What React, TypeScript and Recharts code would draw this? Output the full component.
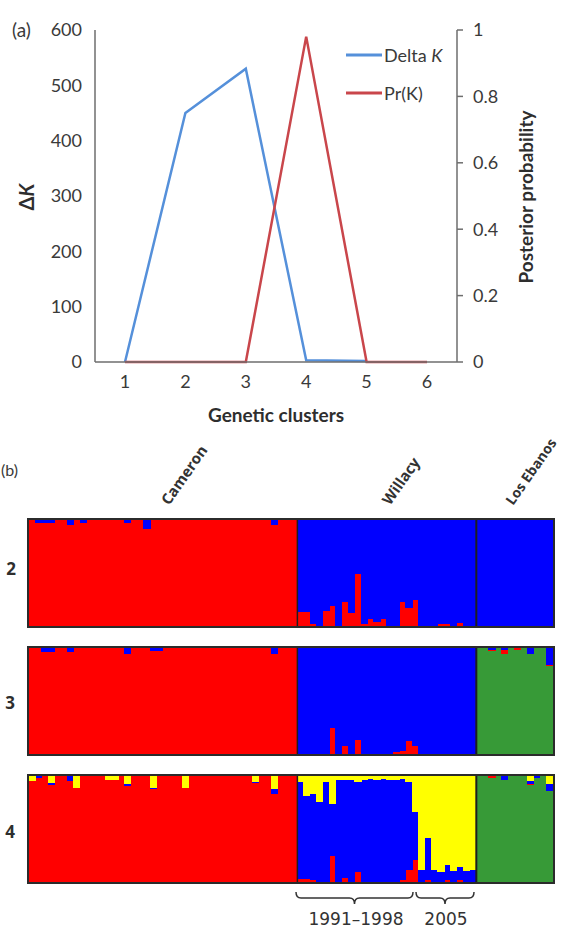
import React from "react";
import { LineChart, Line, XAxis, YAxis, Legend, BarChart, Bar, ReferenceLine } from "recharts";

// ---- panel (a): Delta K and Pr(K) against number of clusters
const clusterLabels = ["1", "2", "3", "4", "5", "6"];
const deltaK = [0, 450, 530, 3, 2, null];
const probK = [0, 0, 0, 0.98, 0, 0];
const deltaTicks = [0, 100, 200, 300, 400, 500, 600];
const probTicks = [0, 0.2, 0.4, 0.6, 0.8, 1];

// ---- panel (b): STRUCTURE membership, one value per individual.
// Only the minor clusters are listed; the rest of each bar goes to the group's main cluster.
const groupSizes = { cameron: 42, willacy91: 19, willacy05: 9, losEbanos: 12 };

const cameronK2Blue = [0, 0.02, 0.02, 0.02, 0, 0, 0.04, 0, 0.02, 0, 0, 0, 0, 0, 0, 0.02, 0, 0, 0.08, 0, 0, 0, 0, 0, 0, 0, 0, 0, 0, 0, 0, 0, 0, 0, 0, 0, 0, 0, 0.04, 0, 0, 0];
const willacy91K2Red = [0.14, 0.14, 0.02, 0.01, 0.15, 0.19, 0.01, 0.23, 0.13, 0.5, 0.02, 0.07, 0.04, 0.07, 0.01, 0.01, 0.23, 0.18, 0.25];
const willacy05K2Red = [0.01, 0.01, 0.01, 0.02, 0.02, 0.01, 0.03, 0.01, 0.01];
const losEbanosK2Red = [0, 0, 0, 0, 0.01, 0, 0, 0, 0, 0, 0, 0];

const cameronK3Blue = [0, 0, 0.03, 0.03, 0, 0, 0.03, 0, 0, 0, 0, 0, 0, 0, 0, 0.05, 0, 0, 0, 0.02, 0.02, 0, 0, 0, 0, 0, 0, 0, 0, 0, 0, 0, 0, 0, 0, 0, 0, 0, 0.05, 0, 0, 0];
const cameronK3Green = [0, 0, 0, 0, 0, 0, 0, 0, 0, 0, 0, 0, 0, 0, 0, 0, 0, 0.01, 0, 0, 0, 0, 0, 0, 0, 0, 0, 0, 0, 0, 0, 0.01, 0, 0, 0, 0, 0, 0, 0, 0, 0, 0];
const willacy91K3Red = [0.01, 0.01, 0, 0, 0.01, 0.25, 0.01, 0.08, 0.01, 0.14, 0.01, 0, 0, 0, 0, 0.01, 0.02, 0.13, 0.08];
const willacy91K3Green = [0, 0, 0, 0, 0, 0, 0, 0, 0, 0, 0, 0, 0, 0, 0, 0.01, 0.01, 0, 0];
const willacy05K3Red = [0.01, 0.01, 0, 0, 0, 0.01, 0.01, 0, 0];
const losEbanosK3Red = [0, 0, 0.01, 0, 0.04, 0, 0.01, 0, 0, 0, 0, 0.01];
const losEbanosK3Blue = [0, 0, 0.01, 0, 0.01, 0, 0, 0, 0.05, 0, 0, 0.15];

const cameronK4Yellow = [0.04, 0, 0, 0.06, 0, 0, 0, 0.11, 0, 0, 0, 0, 0.03, 0.03, 0, 0.07, 0, 0, 0, 0.11, 0, 0, 0, 0, 0.11, 0, 0, 0, 0, 0, 0, 0, 0, 0, 0, 0.05, 0, 0, 0.12, 0, 0, 0];
const cameronK4Blue = [0, 0.01, 0, 0.02, 0, 0, 0.04, 0, 0, 0, 0, 0, 0, 0, 0, 0.02, 0, 0, 0, 0.01, 0, 0, 0, 0, 0, 0, 0, 0, 0, 0, 0, 0, 0, 0, 0, 0.01, 0, 0, 0.04, 0, 0, 0];
const cameronK4Green = [0, 0, 0.01, 0, 0, 0, 0, 0, 0, 0, 0, 0, 0, 0, 0, 0, 0, 0.01, 0, 0, 0, 0, 0, 0, 0, 0, 0, 0, 0, 0, 0, 0, 0, 0, 0, 0, 0, 0, 0, 0, 0, 0];
const willacy91K4Red = [0.03, 0.03, 0.01, 0, 0, 0.25, 0, 0.04, 0, 0.1, 0, 0, 0, 0, 0, 0.01, 0.02, 0.12, 0.21];
const willacy91K4Yellow = [0.05, 0.18, 0.16, 0.24, 0.05, 0.26, 0.03, 0.03, 0.03, 0.05, 0.03, 0.02, 0.03, 0.02, 0.03, 0.03, 0.02, 0.05, 0.33];
const willacy91K4Green = [0, 0, 0.01, 0, 0, 0, 0, 0, 0, 0, 0, 0, 0, 0.01, 0, 0, 0, 0, 0];
const willacy05K4Blue = [0.11, 0.4, 0.11, 0.1, 0.15, 0.11, 0.13, 0.11, 0.11];
const willacy05K4Red = [0.01, 0.02, 0.01, 0, 0.02, 0, 0.02, 0, 0.01];
const losEbanosK4Red = [0, 0, 0.01, 0, 0, 0, 0, 0, 0.01, 0, 0, 0];
const losEbanosK4Blue = [0, 0, 0, 0, 0.03, 0, 0, 0, 0.03, 0.01, 0, 0.07];
const losEbanosK4Yellow = [0, 0, 0, 0, 0, 0, 0, 0, 0.04, 0, 0, 0.07];

const clusterColors: Record<string, string> = {
  green: "#379a37",
  red: "#ff0000",
  blue: "#0000ff",
  yellow: "#ffff00",
};
const stackOrder = ["green", "red", "blue", "yellow"];

type Group = { n: number; main: string; minor: Record<string, number[]> };

function buildRows(groups: Group[]) {
  const rows: any[] = [];
  let id = 0;
  groups.forEach((g) => {
    for (let i = 0; i < g.n; i++) {
      const row: any = { id: `ind${id++}`, green: 0, red: 0, blue: 0, yellow: 0 };
      let rest = 1;
      Object.keys(g.minor).forEach((c) => {
        const v = g.minor[c][i] ?? 0;
        row[c] = v;
        rest -= v;
      });
      row[g.main] = rest;
      rows.push(row);
    }
  });
  return rows;
}

const k2Rows = buildRows([
  { n: groupSizes.cameron, main: "red", minor: { blue: cameronK2Blue } },
  { n: groupSizes.willacy91, main: "blue", minor: { red: willacy91K2Red } },
  { n: groupSizes.willacy05, main: "blue", minor: { red: willacy05K2Red } },
  { n: groupSizes.losEbanos, main: "blue", minor: { red: losEbanosK2Red } },
]);
const k3Rows = buildRows([
  { n: groupSizes.cameron, main: "red", minor: { blue: cameronK3Blue, green: cameronK3Green } },
  { n: groupSizes.willacy91, main: "blue", minor: { red: willacy91K3Red, green: willacy91K3Green } },
  { n: groupSizes.willacy05, main: "blue", minor: { red: willacy05K3Red } },
  { n: groupSizes.losEbanos, main: "green", minor: { red: losEbanosK3Red, blue: losEbanosK3Blue } },
]);
const k4Rows = buildRows([
  { n: groupSizes.cameron, main: "red", minor: { yellow: cameronK4Yellow, blue: cameronK4Blue, green: cameronK4Green } },
  { n: groupSizes.willacy91, main: "blue", minor: { red: willacy91K4Red, yellow: willacy91K4Yellow, green: willacy91K4Green } },
  { n: groupSizes.willacy05, main: "yellow", minor: { blue: willacy05K4Blue, red: willacy05K4Red } },
  { n: groupSizes.losEbanos, main: "green", minor: { red: losEbanosK4Red, blue: losEbanosK4Blue, yellow: losEbanosK4Yellow } },
]);

const willacyStart = `ind${groupSizes.cameron}`;
const losEbanosStart = `ind${groupSizes.cameron + groupSizes.willacy91 + groupSizes.willacy05}`;

const lineData = clusterLabels.map((k, i) => ({ k, deltaK: deltaK[i], probK: probK[i] }));

const BLUE = "#5590da";
const RED = "#c9464b";
const AXIS = "#6e6e6e";
const TICK = "#3a3a3a";
const FONT_A = "Lato, 'Open Sans', sans-serif";
const FONT_B = "'Open Sans', Lato, sans-serif";

function LegendBox() {
  const items = [
    { color: BLUE, text: "Delta ", italic: "K" },
    { color: RED, text: "Pr(K)", italic: "" },
  ];
  return (
    <div style={{ fontFamily: FONT_A, fontSize: 18, color: TICK }}>
      {items.map((it, i) => (
        <div key={i} style={{ display: "flex", alignItems: "center", height: 38 }}>
          <svg width={36} height={6}>
            <line x1={0} y1={3} x2={36} y2={3} stroke={it.color} strokeWidth={3} />
          </svg>
          <span style={{ marginLeft: 2 }}>
            {it.text}
            {it.italic && <i>{it.italic}</i>}
          </span>
        </div>
      ))}
    </div>
  );
}

function StructurePlot({ rows, top }: { rows: any[]; top: number }) {
  return (
    <div
      style={{
        position: "absolute",
        left: 27,
        top,
        width: 524,
        height: 106,
        border: "2px solid #2b2b2b",
        background: "#fff",
      }}
    >
      <BarChart
        width={524}
        height={106}
        data={rows}
        margin={{ top: 0, right: 0, left: 0, bottom: 0 }}
        barCategoryGap={0}
        barGap={0}
      >
        <XAxis dataKey="id" hide />
        <YAxis hide domain={[0, 1]} allowDataOverflow />
        {stackOrder.map((c) => (
          <Bar
            key={c}
            dataKey={c}
            stackId="q"
            fill={clusterColors[c]}
            stroke={clusterColors[c]}
            strokeWidth={1.2}
            shapeRendering="crispEdges"
            isAnimationActive={false}
          />
        ))}
        <ReferenceLine x={willacyStart} position="start" stroke="#1e1e1e" strokeWidth={1.5} />
        <ReferenceLine x={losEbanosStart} position="start" stroke="#1e1e1e" strokeWidth={2} />
      </BarChart>
    </div>
  );
}

function Bracket({ x1, x2, y }: { x1: number; x2: number; y: number }) {
  const mid = (x1 + x2) / 2;
  const d = `M${x1},${y - 6} Q${x1},${y} ${x1 + 5},${y} L${mid - 5},${y} Q${mid},${y} ${mid},${y + 6} Q${mid},${y} ${mid + 5},${y} L${x2 - 5},${y} Q${x2},${y} ${x2},${y - 6}`;
  return <path d={d} fill="none" stroke="#333" strokeWidth={1.5} />;
}

export default function App() {
  return (
    <div style={{ position: "absolute", left: 0, top: 0, width: 564, height: 928, background: "#fff", overflow: "hidden" }}>
      <div style={{ position: "absolute", left: 0, top: 0 }}>
        <LineChart width={564} height={440} data={lineData} margin={{ top: 30, right: 57, left: 35, bottom: 48 }}>
          <XAxis
            dataKey="k"
            padding={{ left: 30, right: 30 }}
            height={30}
            tickSize={0}
            tickMargin={13}
            tickLine={false}
            axisLine={{ stroke: AXIS, strokeWidth: 1.5 }}
            tick={{ fill: TICK, fontSize: 18, fontFamily: FONT_A }}
            label={{
              value: "Genetic clusters",
              position: "bottom",
              offset: 17,
              fill: "#2e2e2e",
              fontSize: 19,
              fontWeight: 700,
              fontFamily: FONT_A,
            }}
          />
          <YAxis
            yAxisId="dk"
            domain={[0, 600]}
            ticks={deltaTicks}
            width={60}
            tickSize={0}
            tickMargin={13}
            tickLine={false}
            axisLine={{ stroke: AXIS, strokeWidth: 1.5 }}
            tick={{ fill: TICK, fontSize: 18, fontFamily: FONT_A }}
          />
          <YAxis
            yAxisId="pr"
            orientation="right"
            domain={[0, 1]}
            ticks={probTicks}
            width={50}
            tickSize={6}
            tickMargin={10}
            tickLine={{ stroke: AXIS, strokeWidth: 1.5 }}
            axisLine={{ stroke: AXIS, strokeWidth: 1.5 }}
            tick={{ fill: TICK, fontSize: 18, fontFamily: FONT_A }}
          />
          <Line yAxisId="dk" dataKey="deltaK" stroke={BLUE} strokeWidth={2.5} dot={false} isAnimationActive={false} />
          <Line yAxisId="pr" dataKey="probK" stroke={RED} strokeWidth={2.5} dot={false} isAnimationActive={false} />
          <Legend
            layout="vertical"
            align="center"
            verticalAlign="middle"
            content={() => <LegendBox />}
            wrapperStyle={{ left: 346, top: 36, width: 130 }}
          />
        </LineChart>
      </div>

      <StructurePlot rows={k2Rows} top={518} />
      <StructurePlot rows={k3Rows} top={646} />
      <StructurePlot rows={k4Rows} top={774} />

      <svg width={564} height={928} style={{ position: "absolute", left: 0, top: 0, pointerEvents: "none" }}>
        <text x={12} y={37} fontSize={19} fill={TICK} fontFamily={FONT_A}>(a)</text>
        <text
          transform="translate(34,197) rotate(-90)"
          textAnchor="middle"
          fontSize={20}
          fontWeight={700}
          fill="#2e2e2e"
          fontFamily={FONT_A}
        >
          Δ<tspan fontStyle="italic">K</tspan>
        </text>
        <text
          transform="translate(533,197) rotate(-90)"
          textAnchor="middle"
          fontSize={19}
          fontWeight={700}
          fill="#2e2e2e"
          fontFamily={FONT_A}
        >
          Posterior probability
        </text>

        <text x={1} y={476} fontSize={16} fill={TICK} fontFamily={FONT_A}>(b)</text>
        <text x={16} y={575} textAnchor="end" fontSize={17} fontWeight={700} fill="#2e2e2e" fontFamily={FONT_B}>2</text>
        <text x={15} y={709} textAnchor="end" fontSize={17} fontWeight={700} fill="#2e2e2e" fontFamily={FONT_B}>3</text>
        <text x={15} y={838} textAnchor="end" fontSize={17} fontWeight={700} fill="#2e2e2e" fontFamily={FONT_B}>4</text>

        <text transform="translate(169,506) rotate(-55)" fontSize={15} fontWeight={700} fill="#333" fontFamily={FONT_B}>Cameron</text>
        <text transform="translate(390,506) rotate(-55)" fontSize={15} fontWeight={700} fill="#333" fontFamily={FONT_B}>Willacy</text>
        <text transform="translate(513,506) rotate(-55)" fontSize={14} fontWeight={700} fill="#333" fontFamily={FONT_B}>Los Ebanos</text>

        <Bracket x1={296} x2={413} y={898} />
        <Bracket x1={416} x2={474} y={898} />
        <text x={356} y={925} textAnchor="middle" fontSize={17} fill="#333" fontFamily="'DejaVu Sans', sans-serif">1991–1998</text>
        <text x={446} y={925} textAnchor="middle" fontSize={17} fill="#333" fontFamily="'DejaVu Sans', sans-serif">2005</text>
      </svg>
    </div>
  );
}
